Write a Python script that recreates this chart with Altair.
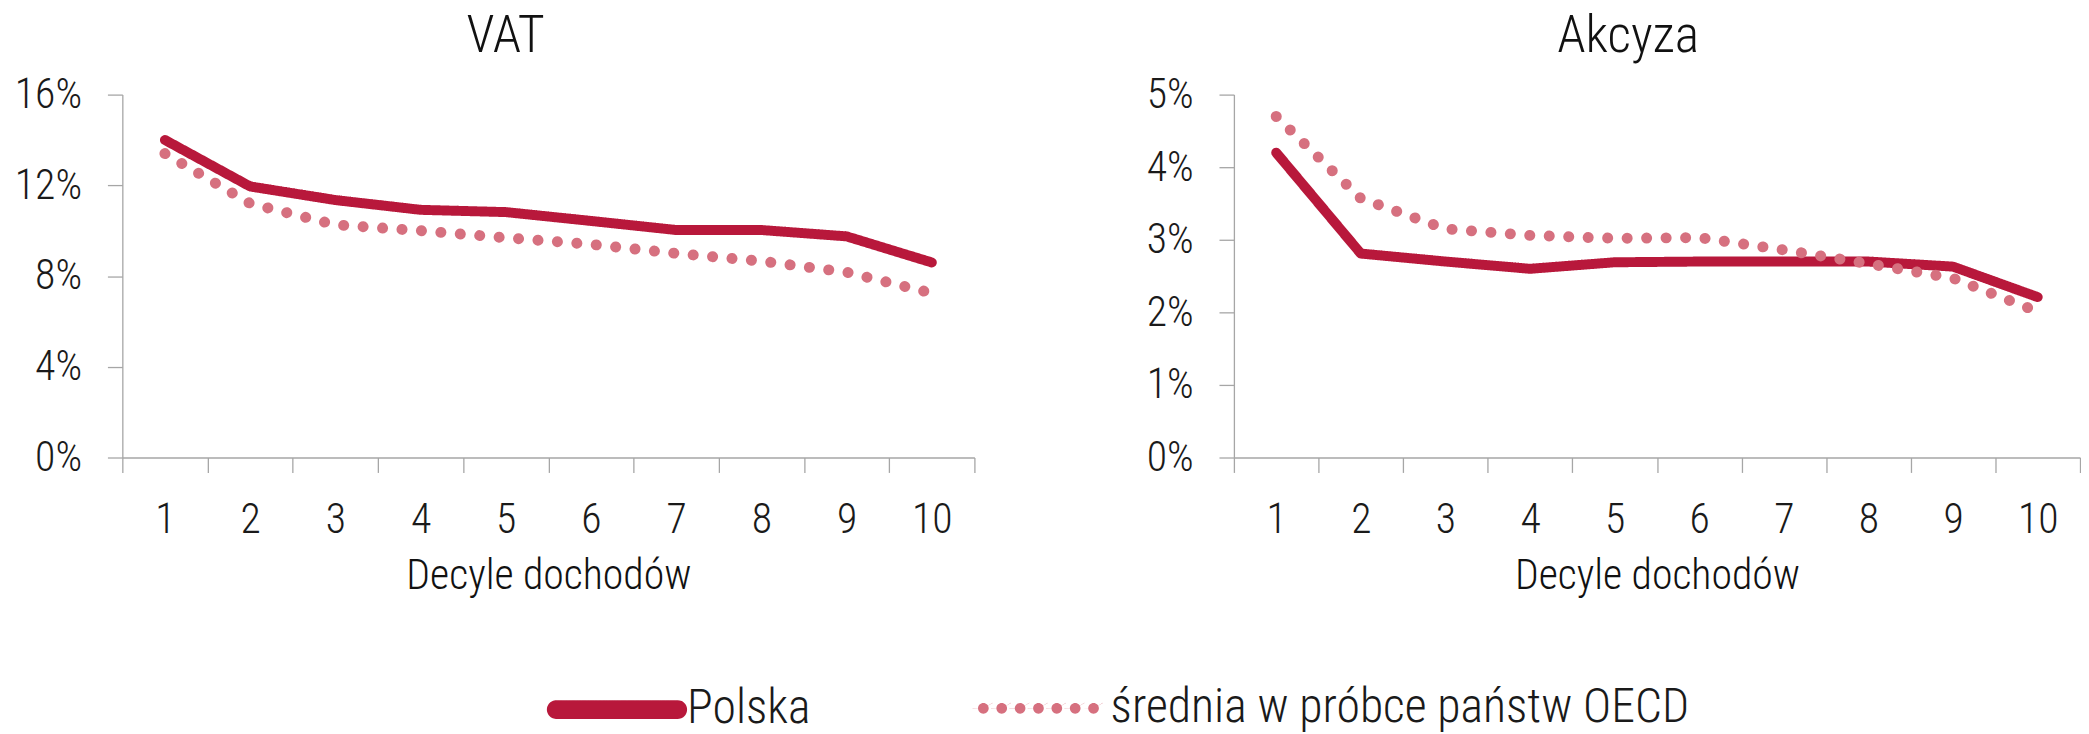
import altair as alt
import pandas as pd

deciles = list(range(1, 11))
series_names = ["Polska", "średnia w próbce państw OECD"]

vat_polska = [14.0, 11.95, 11.35, 10.92, 10.82, 10.43, 10.03, 10.03, 9.75, 8.6]
vat_oecd = [13.4, 11.2, 10.26, 10.0, 9.69, 9.4, 9.0, 8.66, 8.17, 7.25]
akc_polska = [4.2, 2.81, 2.70, 2.60, 2.69, 2.70, 2.70, 2.70, 2.63, 2.21]
akc_oecd = [4.70, 3.57, 3.15, 3.06, 3.02, 3.03, 2.86, 2.67, 2.47, 2.01]

vat_ticks = [0, 4, 8, 12, 16]
akc_ticks = [0, 1, 2, 3, 4, 5]

FONT = "Roboto Condensed, Liberation Sans Narrow, Roboto, sans-serif"
RED = "#B8183B"
PINK = "#D6707F"
AXIS = "#A6A6A6"

# legend symbol shapes (unit box -1..1): thick rounded bar, row of dots
r_bar = 0.068
bar_path = (
    f"M {-1 + r_bar} {-r_bar} L {1 - r_bar} {-r_bar} "
    f"A {r_bar} {r_bar} 0 0 1 {1 - r_bar} {r_bar} "
    f"L {-1 + r_bar} {r_bar} A {r_bar} {r_bar} 0 0 1 {-1 + r_bar} {-r_bar} Z"
)
r_dot = 0.082
dot_parts = []
for i in range(7):
    cx = -0.87 + i * 0.282
    dot_parts.append(
        f"M {cx - r_dot:.3f} 0 A {r_dot} {r_dot} 0 1 0 {cx + r_dot:.3f} 0 "
        f"A {r_dot} {r_dot} 0 1 0 {cx - r_dot:.3f} 0 Z"
    )
dots_path = " ".join(dot_parts)


def make_df(pol, oecd):
    rows = []
    for d, v in zip(deciles, pol):
        rows.append({"decile": d, "series": series_names[0], "value": v})
    for d, v in zip(deciles, oecd):
        rows.append({"decile": d, "series": series_names[1], "value": v})
    return pd.DataFrame(rows)


xvals = [0.5 + 0.5 * i for i in range(21)]

leg = alt.Legend(
    title=None,
    orient="none",
    direction="horizontal",
    legendX=427,
    legendY=546,
    symbolSize=17161,
    symbolStrokeWidth=0,
    labelFontSize=48,
    labelFont=FONT,
    labelFontWeight=300,
    labelColor="#1a1a1a",
    labelOffset=0,
    labelLimit=2000,
    columnPadding=145,
    padding=0,
)

color_scale = alt.Scale(domain=series_names, range=[RED, PINK])


def panel(title, df, ymax, yticks, width, dx):
    x = alt.X(
        "decile:Q",
        scale=alt.Scale(domain=[0.5, 10.5], nice=False, zero=False),
        axis=alt.Axis(
            values=xvals,
            title="Decyle dochodów",
            grid=False,
            labelExpr="datum.value % 1 === 0 ? '' + datum.value : ''",
            labelOverlap=False,
            labelFlush=False,
            tickOpacity={
                "condition": {"test": "datum.value % 1 === 0", "value": 0},
                "value": 1,
            },
            tickSize=15,
            labelPadding=27,
            titlePadding=16,
        ),
    )
    y = alt.Y(
        "value:Q",
        scale=alt.Scale(domain=[0, ymax], nice=False),
        axis=alt.Axis(
            values=yticks,
            labelExpr="datum.value + '%'",
            title=None,
            grid=False,
            tickSize=15,
            labelPadding=26,
        ),
    )
    lines = (
        alt.Chart(df)
        .mark_line(strokeCap="round", strokeJoin="round")
        .encode(
            x=x,
            y=y,
            color=alt.Color("series:N", scale=color_scale, legend=None),
            strokeDash=alt.StrokeDash(
                "series:N",
                scale=alt.Scale(domain=series_names, range=[[1, 0], [0.1, 19.5]]),
                legend=None,
            ),
            strokeWidth=alt.StrokeWidth(
                "series:N",
                scale=alt.Scale(domain=series_names, range=[10, 11]),
                legend=None,
            ),
        )
    )
    legend_layer = (
        alt.Chart(df)
        .transform_filter("false")
        .mark_point(filled=True, opacity=1, size=17161)
        .encode(
            x=x,
            y=y,
            color=alt.Color("series:N", scale=color_scale, legend=leg),
            shape=alt.Shape(
                "series:N",
                scale=alt.Scale(domain=series_names, range=[bar_path, dots_path]),
                legend=leg,
            ),
        )
    )
    return alt.layer(legend_layer, lines).properties(
        width=width,
        height=365,
        title=alt.TitleParams(
            title,
            anchor="middle",
            frame="group",
            dx=dx,
            fontSize=52,
            fontWeight=300,
            font=FONT,
            color="#111111",
            offset=-41,
            baseline="bottom",
        ),
    )


p1 = panel("VAT", make_df(vat_polska, vat_oecd), 16, vat_ticks, 857, -43)
p2 = panel("Akcyza", make_df(akc_polska, akc_oecd), 5, akc_ticks, 851, -29)

chart = (
    alt.hconcat(p1, p2, spacing=171)
    .properties(padding={"left": 6, "top": 0, "right": 0, "bottom": 0})
    .configure(font=FONT)
    .configure_axis(
        labelFont=FONT,
        labelFontSize=42,
        labelFontWeight=300,
        labelColor="#1a1a1a",
        titleFont=FONT,
        titleFontSize=42,
        titleFontWeight=300,
        titleColor="#111111",
        domainColor=AXIS,
        tickColor=AXIS,
        domainWidth=1.3,
        tickWidth=1.3,
    )
    .configure_view(stroke=None)
)

chart.save("out.html", embed_options={"renderer": "svg", "actions": False})
